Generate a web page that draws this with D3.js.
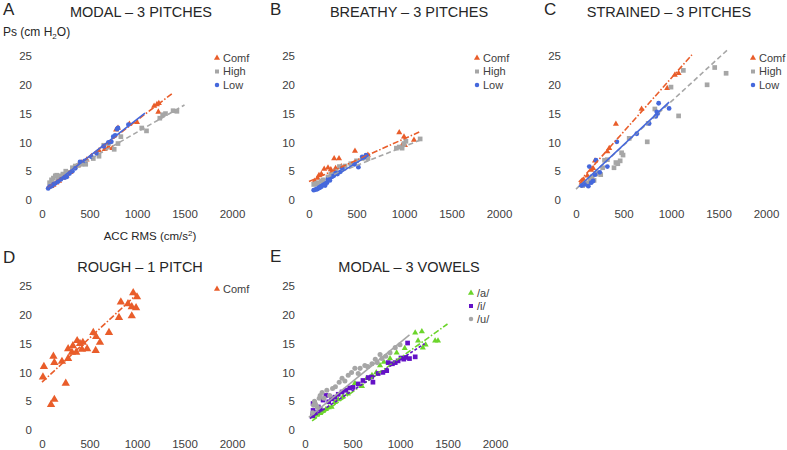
<!DOCTYPE html>
<html><head><meta charset="utf-8">
<script src="https://d3js.org/d3.v7.min.js"></script>
<style>body{margin:0;background:#fff}svg{font-family:"Liberation Sans",Arial,sans-serif}</style>
</head><body><svg id="c" width="787" height="450"></svg>
<script>
// ---------- data ----------
const xTicks = [0, 500, 1000, 1500, 2000];
const yTicks = [0, 5, 10, 15, 20, 25];

// Panel A: MODAL – 3 pitches
const aComf = [[70,2.2],[85,2.5],[100,2.4],[110,2.8],[120,2.6],[150,3.0],[180,3.3],[220,3.8],[260,4.2],[300,4.8],[340,5.5],[380,6.0],[420,6.5],[470,7.0],[520,7.6],[600,8.6],[660,8.8],[700,9.2],[740,9.0],[780,12.2],[800,12.5],[920,13.2],[1000,13.5],[1180,16.3],[1210,16.6],[1230,16.8],[1225,15.3]];
const aHigh = [[80,3.0],[100,3.5],[120,3.8],[140,4.2],[155,4.3],[170,3.6],[200,4.2],[220,4.5],[250,5.0],[280,4.8],[320,5.6],[350,5.9],[380,6.0],[420,6.2],[460,6.2],[540,7.2],[600,7.6],[650,9.5],[700,9.8],[760,8.8],[800,9.8],[830,11.0],[1050,12.5],[1100,12.0],[1240,14.2],[1270,14.8],[1300,15.0],[1380,15.5],[1420,15.4]];
const aLow = [[65,2.0],[80,2.3],[100,2.4],[120,2.7],[140,2.9],[170,3.2],[200,3.6],[240,3.9],[260,4.0],[290,4.6],[320,5.0],[350,5.5],[400,6.6],[450,6.8],[520,7.5],[575,8.1],[650,9.3],[700,10.0],[730,10.1],[750,11.0],[770,11.2],[790,12.3],[800,12.5],[910,13.1]];
const aFitComf = [[63,2.1],[1380,18.6]];
const aFitHigh = [[84,3.1],[1500,16.5]];
const aFitLow  = [[63,2.0],[1084,15.1]];

// Panel B: BREATHY – 3 pitches
const bComf = [[60,3.3],[90,3.8],[105,4.3],[130,4.5],[160,5.4],[200,5.6],[230,5.3],[265,7.2],[280,5.5],[316,7.2],[340,5.8],[484,8.5],[620,7.8],[950,11.7],[980,9.5],[1000,11.0],[1010,9.5],[1105,10.4]];
const bHigh = [[50,2.7],[80,2.8],[100,3.0],[130,3.3],[150,3.5],[200,4.0],[230,4.5],[280,5.0],[320,5.8],[380,5.9],[440,6.3],[500,6.8],[560,7.2],[620,7.2],[920,9.0],[950,9.2],[980,9.0],[1000,9.8],[1020,10.2],[1170,10.6]];
const bLow = [[50,1.7],[70,1.8],[90,1.9],[110,2.1],[130,2.3],[150,2.6],[170,2.5],[190,3.0],[200,3.6],[220,3.4],[240,4.0],[260,4.2],[280,4.7],[300,4.5],[330,4.9],[350,5.5],[480,6.2],[520,5.7],[560,7.5],[580,7.4],[600,7.8]];
const bFitComf = [[0,3.2],[1160,11.8]];
const bFitHigh = [[30,2.9],[1200,10.6]];
const bFitLow  = [[30,1.7],[630,7.8]];

// Panel C: STRAINED – 3 pitches
const cComf = [[60,3.0],[80,3.5],[120,4.2],[160,5.2],[180,5.5],[200,6.8],[330,8.4],[350,9.0],[420,13.2],[690,15.8],[960,19.4],[1040,21.7],[1080,22.0]];
const cHigh = [[70,2.5],[100,2.8],[130,3.0],[150,3.6],[170,4.0],[190,3.4],[210,4.5],[240,4.7],[260,4.4],[280,5.6],[300,6.9],[330,7.0],[400,5.6],[420,6.5],[440,6.3],[465,6.8],[480,8.2],[495,7.8],[560,10.7],[750,10.1],[760,13.3],[830,15.8],[1000,19.6],[1080,14.6],[1130,22.5],[1380,20.0],[1460,23.0],[1580,22.0]];
const cLow = [[60,2.5],[90,2.7],[130,2.4],[140,5.8],[160,3.0],[180,3.3],[200,4.4],[210,6.9],[250,4.8],[330,5.8],[430,10.1],[640,11.5],[770,13.3],[840,14.5],[850,15.3],[860,15.0],[870,16.8],[980,15.9]];
const cFitComf = [[30,3.1],[1220,25.2]];
const cFitHigh = [[0,1.9],[1590,26.0]];
const cFitLow  = [[30,2.3],[980,17.0]];

// Panel D: ROUGH – 1 pitch
const dComf = [[960,23.8],[1000,23.1],[830,22.2],[905,21.9],[945,21.4],[990,21.2],[810,19.5],[945,19.8],[705,16.9],[540,16.9],[570,16.2],[610,15.2],[565,13.8],[430,15.2],[370,15.5],[400,15.0],[475,14.1],[420,14.0],[360,13.5],[315,13.5],[325,14.6],[275,14.1],[275,12.4],[210,11.9],[120,12.8],[130,11.7],[20,11.0],[10,9.2],[250,8.1],[130,5.3],[95,4.4]];
const dFitComf = [[0,8.3],[1000,23.6]];

// Panel E: MODAL – 3 vowels
const eA = [[90,2.3],[120,2.6],[160,2.9],[190,3.3],[220,3.6],[250,3.9],[280,4.0],[315,4.8],[350,5.3],[400,5.8],[450,6.3],[525,8.1],[600,7.6],[650,9.0],[705,9.5],[750,10.0],[790,11.2],[830,11.8],[895,12.4],[965,13.4],[1050,14.2],[1160,16.9],[1190,15.5],[1230,17.1],[1240,14.3],[1270,14.8],[1370,15.5],[1400,15.5]];
const eI = [[80,2.5],[85,3.4],[85,4.6],[110,3.0],[140,4.0],[160,3.6],[190,5.2],[220,6.0],[250,4.9],[280,5.4],[315,5.7],[350,6.2],[390,6.6],[430,6.9],[470,7.3],[505,7.4],[560,8.0],[610,8.6],[665,9.1],[700,9.2],[715,8.3],[770,9.8],[820,10.0],[860,10.3],[875,11.7],[920,11.5],[950,11.7],[980,12.0],[1010,12.5],[1040,12.3],[1060,12.6],[1080,15.1],[1100,12.4],[1160,12.7]];
const eU = [[80,3.0],[90,4.3],[100,5.0],[110,4.5],[130,4.0],[150,5.5],[160,6.0],[180,6.5],[200,5.5],[230,6.9],[260,6.0],[290,7.2],[320,7.5],[360,8.3],[390,9.0],[420,8.5],[455,9.5],[490,10.0],[525,10.7],[560,9.8],[580,10.7],[630,11.2],[660,11.0],[705,11.5],[740,12.3],[760,11.7],[790,13.1],[810,12.4],[850,12.8],[895,13.4],[950,14.3],[1000,14.8]];
const eFitA = [[75,1.6],[1500,18.4]];
const eFitI = [[50,2.0],[1260,15.0]];
const eFitU = [[40,2.2],[1100,16.5]];

const pitchNames = ["Comf", "High", "Low"];
const vowelNames = ["/a/", "/i/", "/u/"];

// ---------- styles ----------
const C_ORANGE = "#E95D2A", C_GRAY = "#A6A6A6", C_BLUE = "#4568DC", C_GREEN = "#6CD52C", C_PURPLE = "#6412C6";
const DASH_DOT = "6,2,1.5,2", DASH = "5,3", SOLID = null;

const svg = d3.select("#c");

function marker(g, shape, color, size) {
  const sym = shape === "tri" ? d3.symbolTriangle : shape === "sq" ? d3.symbolSquare : d3.symbolCircle;
  return g.append("path").attr("d", d3.symbol().type(sym).size(size)).attr("fill", color);
}

function panel(p) {
  const x = d3.scaleLinear().domain([0, 2000]).range([p.x0, p.x0 + 190]);
  const y = d3.scaleLinear().domain([0, 25]).range([p.yb, p.yb - 144]);
  const g = svg.append("g");
  // axes
  const ya = g.append("g").attr("transform", `translate(${p.x0},0)`)
    .call(d3.axisLeft(y).tickValues(yTicks).tickSize(0).tickPadding(p.ypad).tickFormat(d3.format("d")));
  const xa = g.append("g").attr("transform", `translate(0,${p.yb})`)
    .call(d3.axisBottom(x).tickValues(xTicks).tickSize(0).tickPadding(p.xpad).tickFormat(d3.format("d")));
  [ya, xa].forEach(a => { a.select(".domain").remove(); a.selectAll("text").attr("font-size", 11.5).attr("fill", "#404040").attr("font-family", "Liberation Sans, Arial, sans-serif"); });
  // title, letter
  g.append("text").attr("x", p.tx).attr("y", p.ty).attr("text-anchor", "middle").attr("font-size", 14.5).attr("fill", "#262626").text(p.title);
  g.append("text").attr("x", p.lx).attr("y", p.ly).attr("font-size", 17).attr("fill", "#262626").text(p.letter);
  // series
  const line = d3.line().x(d => x(d[0])).y(d => y(d[1]));
  p.series.forEach(s => {
    s.data.forEach(d => {
      marker(g, s.shape, s.color, s.size).attr("transform", `translate(${x(d[0])},${y(d[1])})`);
    });
  });
  p.series.forEach(s => {
    if (!s.fit) return;
    g.append("path").attr("d", line(s.fit)).attr("fill", "none").attr("stroke", s.color)
      .attr("stroke-width", 1.6).attr("stroke-dasharray", s.dash);
  });
  // legend
  p.series.forEach((s, i) => {
    const ly = p.legY + i * p.legStep;
    marker(g, s.shape, s.color, s.legSize || 16).attr("transform", `translate(${p.legX},${ly})`);
    g.append("text").attr("x", p.legX + 6).attr("y", ly).attr("dy", "0.35em").attr("font-size", 11).attr("fill", "#404040").text(s.name);
  });
}

panel({x0: 42, yb: 200, ypad: 10, xpad: 10, title: "MODAL – 3 PITCHES", tx: 141, ty: 17, letter: "A", lx: 3, ly: 15,
  legX: 217, legY: 58, legStep: 13.5,
  series: [
    {name: pitchNames[0], data: aComf, fit: aFitComf, shape: "tri", color: C_ORANGE, size: 16, dash: DASH_DOT},
    {name: pitchNames[1], data: aHigh, fit: aFitHigh, shape: "sq", color: C_GRAY, size: 22, dash: DASH},
    {name: pitchNames[2], data: aLow, fit: aFitLow, shape: "ci", color: C_BLUE, size: 18, dash: SOLID}
  ]
});

panel({x0: 309, yb: 200, ypad: 14, xpad: 10, title: "BREATHY – 3 PITCHES", tx: 409, ty: 17, letter: "B", lx: 270, ly: 15,
  legX: 477, legY: 58, legStep: 13.5,
  series: [
    {name: pitchNames[0], data: bComf, fit: bFitComf, shape: "tri", color: C_ORANGE, size: 16, dash: DASH_DOT},
    {name: pitchNames[1], data: bHigh, fit: bFitHigh, shape: "sq", color: C_GRAY, size: 22, dash: DASH},
    {name: pitchNames[2], data: bLow, fit: bFitLow, shape: "ci", color: C_BLUE, size: 18, dash: SOLID}
  ]
});

panel({x0: 576, yb: 200, ypad: 15, xpad: 10, title: "STRAINED – 3 PITCHES", tx: 669, ty: 17, letter: "C", lx: 544, ly: 15,
  legX: 753, legY: 58, legStep: 13.5,
  series: [
    {name: pitchNames[0], data: cComf, fit: cFitComf, shape: "tri", color: C_ORANGE, size: 16, dash: DASH_DOT},
    {name: pitchNames[1], data: cHigh, fit: cFitHigh, shape: "sq", color: C_GRAY, size: 22, dash: DASH},
    {name: pitchNames[2], data: cLow, fit: cFitLow, shape: "ci", color: C_BLUE, size: 18, dash: SOLID}
  ]
});

panel({x0: 42, yb: 430, ypad: 10, xpad: 10, title: "ROUGH – 1 PITCH", tx: 140, ty: 272, letter: "D", lx: 3, ly: 263,
  legX: 217, legY: 289, legStep: 13.5,
  series: [
    {name: pitchNames[0], data: dComf, fit: dFitComf, shape: "tri", color: C_ORANGE, size: 30, dash: DASH_DOT}
  ]
});

panel({x0: 305, yb: 430, ypad: 10, xpad: 10, title: "MODAL – 3 VOWELS", tx: 409, ty: 272, letter: "E", lx: 270, ly: 262,
  legX: 471, legY: 293, legStep: 13,
  series: [
    {name: vowelNames[0], data: eA, fit: eFitA, shape: "tri", color: C_GREEN, size: 16, dash: DASH_DOT},
    {name: vowelNames[1], data: eI, fit: eFitI, shape: "sq", color: C_PURPLE, size: 22, dash: "3,2"},
    {name: vowelNames[2], data: eU, fit: eFitU, shape: "ci", color: C_GRAY, size: 20, dash: SOLID}
  ]
});

// axis titles
const yl = svg.append("text").attr("x", 3).attr("y", 36).attr("font-size", 12).attr("fill", "#262626");
yl.append("tspan").text("Ps (cm H");
yl.append("tspan").attr("font-size", 8).attr("dy", 3).text("2");
yl.append("tspan").attr("dy", -3).text("O)");

const xl = svg.append("text").attr("x", 150).attr("y", 240).attr("text-anchor", "middle").attr("font-size", 11.5).attr("fill", "#262626");
xl.append("tspan").text("ACC RMS (cm/s");
xl.append("tspan").attr("font-size", 8).attr("dy", -4).text("2");
xl.append("tspan").attr("dy", 4).text(")");
</script>
</body></html>
